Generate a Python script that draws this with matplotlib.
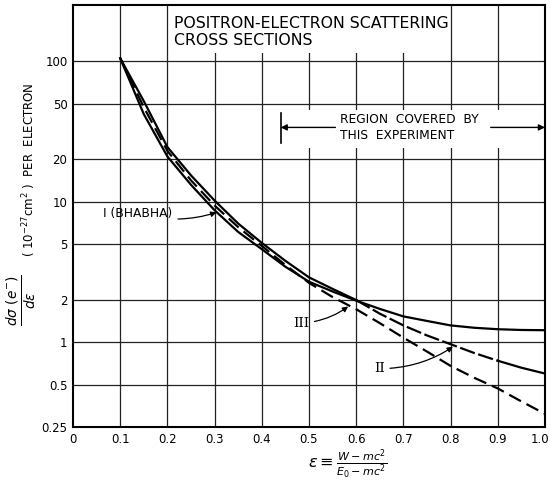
"""
Positron-electron scattering cross sections vs fractional energy transfer.
Three curves: I (Bhabha), II and III, on a log scale.
"""

import matplotlib

matplotlib.use("Agg")

import matplotlib.pyplot as plt
from matplotlib.patches import Rectangle
from matplotlib.transforms import ScaledTranslation

# values
eps = [0.1, 0.15, 0.2, 0.25, 0.3, 0.35, 0.4, 0.45, 0.5, 0.55,
       0.6, 0.65, 0.7, 0.75, 0.8, 0.85, 0.9, 0.95, 1.0]
curve_bhabha = [105, 42, 21, 13.2, 8.7, 6.1, 4.6, 3.45, 2.7, 2.3,
                1.98, 1.73, 1.53, 1.42, 1.32, 1.27, 1.24, 1.225, 1.22]
curve_ii = [105, 52, 24.5, 15.4, 10.2, 7.0, 5.1, 3.8, 2.9, 2.4,
            2.0, 1.6, 1.32, 1.12, 0.97, 0.84, 0.74, 0.66, 0.60]
curve_iii = [105, 47, 23, 14.2, 9.4, 6.6, 4.85, 3.55, 2.65, 2.1,
             1.72, 1.37, 1.08, 0.86, 0.68, 0.56, 0.47, 0.38, 0.31]

x_ticks = [0, 0.1, 0.2, 0.3, 0.4, 0.5, 0.6, 0.7, 0.8, 0.9, 1.0]
x_labels = ["0", "0.1", "0.2", "0.3", "0.4", "0.5", "0.6", "0.7", "0.8", "0.9", "1.0"]
y_ticks = [0.25, 0.5, 1, 2, 5, 10, 20, 50, 100]
y_labels = ["0.25", "0.5", "1", "2", "5", "10", "20", "50", "100"]


def main() -> None:
    fig = plt.figure(figsize=(5.5, 4.83), dpi=100)
    ax = fig.add_axes([73 / 550, 1 - 427 / 483, 472 / 550, 422 / 483])

    ax.set_yscale("log")
    ax.set_xlim(0, 1.0)
    ax.set_ylim(0.25, 251)

    ax.set_xticks(x_ticks)
    ax.set_xticklabels(x_labels)
    ax.set_yticks(y_ticks)
    ax.set_yticklabels(y_labels)
    ax.minorticks_off()
    ax.tick_params(length=0, labelsize=8.5, pad=4)

    # the last x label sits right on the figure edge; nudge it inwards
    last = ax.get_xticklabels()[-1]
    last.set_horizontalalignment("right")
    last.set_transform(last.get_transform()
                       + ScaledTranslation(4 / 100, 0, fig.dpi_scale_trans))

    for v in x_ticks[1:-1]:
        ax.axvline(v, color="#222222", lw=0.9, zorder=0.5)
    for v in y_ticks[1:]:
        ax.axhline(v, color="#222222", lw=0.9, zorder=0.5)
    for s in ax.spines.values():
        s.set_linewidth(1.5)

    # white patches behind the two text blocks hide the grid
    ax.add_patch(Rectangle((0.205, 114), 0.58, 140, facecolor="white",
                           edgecolor="none", zorder=1))
    ax.add_patch(Rectangle((0.438, 24.3), 0.56, 20.4, facecolor="white",
                           edgecolor="none", zorder=1))

    # curves
    ax.plot(eps, curve_bhabha, color="black", lw=1.6, zorder=3)
    i6 = eps.index(0.6)
    i9 = eps.index(0.9)
    ax.plot(eps[:i6 + 1], curve_ii[:i6 + 1], color="black", lw=1.6, zorder=3)
    ax.plot(eps[i6:i9 + 1], curve_ii[i6:i9 + 1], color="black", lw=1.6,
            dashes=(7, 1.6), zorder=3)
    ax.plot(eps[i9:], curve_ii[i9:], color="black", lw=1.6, zorder=3)
    ax.plot(eps, curve_iii, color="black", lw=1.6, dashes=(6, 2.8), zorder=3)

    ax.text(0.214, 161, "POSITRON-ELECTRON SCATTERING\nCROSS SECTIONS",
            fontsize=11.3, ha="left", va="center", linespacing=1.2, zorder=4)

    # region covered by this experiment
    y_arrow = 33.8
    ax.text(0.566, y_arrow, "REGION  COVERED  BY\nTHIS  EXPERIMENT",
            fontsize=8.8, ha="left", va="center", linespacing=1.3, zorder=4)
    ax.plot([0.44, 0.44], [26, 42.5], color="black", lw=1.2, zorder=4)
    arrow = dict(arrowstyle="-|>", color="black", lw=1.0,
                 mutation_scale=9, shrinkA=0, shrinkB=0)
    ax.annotate("", xy=(0.44, y_arrow), xytext=(0.556, y_arrow),
                arrowprops=arrow, zorder=4)
    ax.annotate("", xy=(1.0, y_arrow), xytext=(0.885, y_arrow),
                arrowprops=arrow, zorder=4)

    # curve labels
    label_arrow = dict(arrowstyle="-|>", color="black", lw=0.9,
                       mutation_scale=8, shrinkA=2, shrinkB=0,
                       connectionstyle="arc3,rad=0.15")
    ax.annotate("I (BHABHA)", xy=(0.304, 8.4), xytext=(0.064, 8.2),
                fontsize=8.8, ha="left", va="center", arrowprops=label_arrow,
                zorder=4)
    ax.annotate("III", xy=(0.583, 1.8), xytext=(0.50, 1.37),
                fontsize=9.5, family="DejaVu Serif", ha="right", va="center",
                arrowprops=label_arrow, zorder=4)
    ax.annotate("II", xy=(0.805, 0.93), xytext=(0.66, 0.65),
                fontsize=9.5, family="DejaVu Serif", ha="right", va="center",
                arrowprops=label_arrow, zorder=4)

    # axis titles
    fig.text(348 / 550, 1 - 464 / 483,
             r"$\epsilon \equiv \frac{W - mc^2}{E_0 - mc^2}$",
             fontsize=11.5, ha="center", va="center")
    fig.text(22 / 550, 1 - 300 / 483,
             r"$\frac{d\sigma\ (e^{-})}{d\epsilon}$",
             fontsize=14, rotation=90, ha="center", va="center")
    fig.text(29 / 550, 1 - 170 / 483,
             r"( 10$^{-27}$cm$^{2}$ )  PER  ELECTRON",
             fontsize=8.5, rotation=90, ha="center", va="center")

    fig.savefig("out.png", dpi=100)


if __name__ == "__main__":
    main()
